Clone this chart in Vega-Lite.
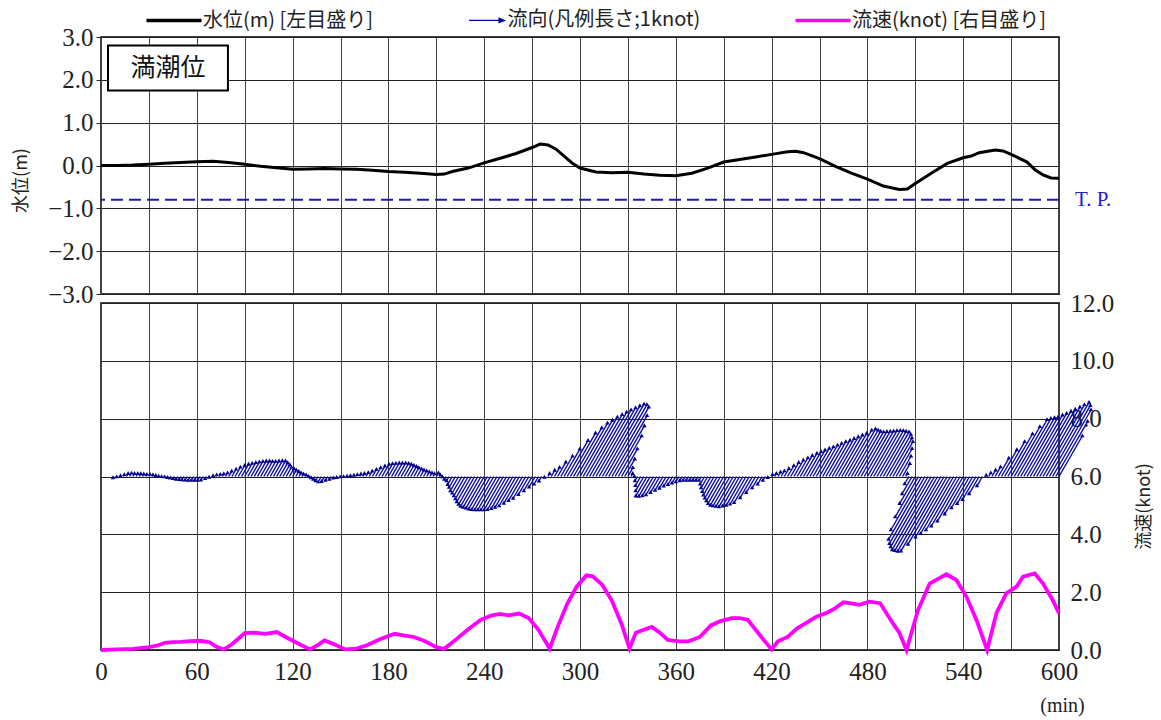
{
  "$schema": "https://vega.github.io/schema/vega-lite/v6.json",
  "background": "white",
  "padding": {"left": 11, "top": 8, "right": 2, "bottom": 2},
  "spacing": 9,
  "bounds": "flush",
  "config": {
    "font": "Liberation Serif",
    "view": {"stroke": "black", "strokeWidth": 1.5},
    "axis": {"labelFont": "Liberation Serif", "labelFontSize": 25, "labelColor": "#222", "titleFont": "Noto Sans CJK JP", "titleFontWeight": "normal", "titleFontSize": 18, "titleColor": "#222", "domain": false, "gridColor": "#222", "gridOpacity": 1, "gridWidth": 1, "tickColor": "#222", "labelFlush": false, "labelOverlap": false},
    "legend": {"labelFont": "Noto Sans CJK JP", "labelFontSize": 20, "labelColor": "#222", "labelLimit": 400, "symbolSize": 400, "symbolStrokeWidth": 3.5, "symbolOpacity": 1, "columnPadding": 87.5, "labelOffset": 17}
  },
  "datasets": {
    "wl": [
      {"t":0,"m":0.0},{"t":10,"m":0.0},{"t":20,"m":0.01},{"t":30,"m":0.03},{"t":40,"m":0.05},{"t":50,"m":0.07},{"t":60,"m":0.09},{"t":70,"m":0.1},{"t":80,"m":0.07},{"t":90,"m":0.03},{"t":100,"m":-0.02},{"t":110,"m":-0.05},{"t":120,"m":-0.09},{"t":130,"m":-0.08},{"t":140,"m":-0.07},{"t":150,"m":-0.08},{"t":160,"m":-0.09},{"t":170,"m":-0.11},{"t":180,"m":-0.14},{"t":190,"m":-0.16},{"t":200,"m":-0.18},{"t":210,"m":-0.21},{"t":215,"m":-0.2},{"t":220,"m":-0.14},{"t":230,"m":-0.06},{"t":240,"m":0.06},{"t":250,"m":0.17},{"t":260,"m":0.28},{"t":270,"m":0.42},{"t":275,"m":0.5},{"t":280,"m":0.48},{"t":285,"m":0.38},{"t":290,"m":0.22},{"t":295,"m":0.06},{"t":300,"m":-0.06},{"t":310,"m":-0.15},{"t":320,"m":-0.17},{"t":330,"m":-0.16},{"t":340,"m":-0.2},{"t":350,"m":-0.23},{"t":360,"m":-0.24},{"t":370,"m":-0.18},{"t":380,"m":-0.06},{"t":390,"m":0.08},{"t":400,"m":0.14},{"t":410,"m":0.2},{"t":420,"m":0.26},{"t":430,"m":0.32},{"t":435,"m":0.33},{"t":440,"m":0.3},{"t":450,"m":0.16},{"t":460,"m":-0.02},{"t":470,"m":-0.18},{"t":480,"m":-0.32},{"t":490,"m":-0.48},{"t":500,"m":-0.56},{"t":505,"m":-0.55},{"t":510,"m":-0.42},{"t":520,"m":-0.18},{"t":530,"m":0.05},{"t":540,"m":0.18},{"t":545,"m":0.22},{"t":550,"m":0.3},{"t":560,"m":0.36},{"t":565,"m":0.34},{"t":570,"m":0.26},{"t":580,"m":0.08},{"t":585,"m":-0.1},{"t":590,"m":-0.22},{"t":595,"m":-0.29},{"t":600,"m":-0.3}
    ],
    "sp": [
      {"t":0,"v":0.0},{"t":10,"v":0.02},{"t":20,"v":0.04},{"t":30,"v":0.1},{"t":35,"v":0.15},{"t":40,"v":0.25},{"t":45,"v":0.27},{"t":50,"v":0.28},{"t":56,"v":0.31},{"t":62,"v":0.32},{"t":68,"v":0.27},{"t":72,"v":0.12},{"t":77,"v":0.02},{"t":82,"v":0.2},{"t":90,"v":0.58},{"t":96,"v":0.6},{"t":103,"v":0.56},{"t":110,"v":0.62},{"t":118,"v":0.38},{"t":125,"v":0.18},{"t":131,"v":0.02},{"t":136,"v":0.18},{"t":140,"v":0.33},{"t":146,"v":0.2},{"t":153,"v":0.02},{"t":160,"v":0.05},{"t":167,"v":0.17},{"t":175,"v":0.38},{"t":184,"v":0.56},{"t":190,"v":0.5},{"t":196,"v":0.45},{"t":203,"v":0.3},{"t":210,"v":0.1},{"t":215,"v":0.04},{"t":222,"v":0.35},{"t":230,"v":0.72},{"t":238,"v":1.05},{"t":245,"v":1.2},{"t":250,"v":1.25},{"t":255,"v":1.2},{"t":262,"v":1.26},{"t":268,"v":1.1},{"t":274,"v":0.7},{"t":281,"v":0.05},{"t":286,"v":0.8},{"t":292,"v":1.6},{"t":298,"v":2.2},{"t":304,"v":2.58},{"t":308,"v":2.55},{"t":314,"v":2.25},{"t":320,"v":1.7},{"t":326,"v":0.9},{"t":331,"v":0.05},{"t":335,"v":0.6},{"t":340,"v":0.7},{"t":345,"v":0.8},{"t":350,"v":0.6},{"t":355,"v":0.35},{"t":362,"v":0.3},{"t":368,"v":0.3},{"t":375,"v":0.45},{"t":382,"v":0.85},{"t":388,"v":1.0},{"t":395,"v":1.1},{"t":400,"v":1.1},{"t":405,"v":1.05},{"t":410,"v":0.7},{"t":415,"v":0.35},{"t":420,"v":0.02},{"t":424,"v":0.3},{"t":430,"v":0.45},{"t":436,"v":0.75},{"t":442,"v":0.95},{"t":448,"v":1.15},{"t":455,"v":1.3},{"t":460,"v":1.45},{"t":465,"v":1.65},{"t":469,"v":1.62},{"t":475,"v":1.56},{"t":481,"v":1.67},{"t":488,"v":1.62},{"t":496,"v":0.92},{"t":500,"v":0.6},{"t":504.5,"v":0.0},{"t":511.7,"v":1.38},{"t":519,"v":2.3},{"t":524,"v":2.45},{"t":529.5,"v":2.62},{"t":535.7,"v":2.42},{"t":542,"v":1.85},{"t":548.3,"v":1.04},{"t":555,"v":0.0},{"t":560.8,"v":1.27},{"t":567,"v":1.96},{"t":573.4,"v":2.19},{"t":577.5,"v":2.54},{"t":584.8,"v":2.65},{"t":590,"v":2.3},{"t":596,"v":1.73},{"t":600,"v":1.27}
    ],
    "dir": [
      {"t":8,"tx":7.5,"ty":5.95},{"t":10,"tx":9.8,"ty":5.98},{"t":12,"tx":12.2,"ty":6.02},{"t":14,"tx":14.6,"ty":6.06},{"t":16,"tx":17.0,"ty":6.1},{"t":18,"tx":19.1,"ty":6.11},{"t":20,"tx":21.0,"ty":6.1},{"t":22,"tx":23.0,"ty":6.1},{"t":24,"tx":24.9,"ty":6.09},{"t":26,"tx":26.8,"ty":6.08},{"t":28,"tx":28.7,"ty":6.07},{"t":30,"tx":30.7,"ty":6.07},{"t":32,"tx":32.5,"ty":6.05},{"t":34,"tx":34.3,"ty":6.03},{"t":36,"tx":36.1,"ty":6.01},{"t":38,"tx":37.9,"ty":5.99},{"t":40,"tx":39.8,"ty":5.98},{"t":42,"tx":41.6,"ty":5.96},{"t":44,"tx":43.4,"ty":5.94},{"t":46,"tx":45.2,"ty":5.92},{"t":48,"tx":47.0,"ty":5.9},{"t":50,"tx":48.9,"ty":5.89},{"t":52,"tx":50.7,"ty":5.88},{"t":54,"tx":52.6,"ty":5.87},{"t":56,"tx":54.5,"ty":5.86},{"t":58,"tx":56.5,"ty":5.86},{"t":60,"tx":58.5,"ty":5.86},{"t":62,"tx":60.5,"ty":5.86},{"t":64,"tx":62.6,"ty":5.87},{"t":66,"tx":65.2,"ty":5.92},{"t":68,"tx":67.7,"ty":5.97},{"t":70,"tx":70.2,"ty":6.02},{"t":72,"tx":72.5,"ty":6.05},{"t":74,"tx":74.7,"ty":6.07},{"t":76,"tx":76.9,"ty":6.09},{"t":78,"tx":79.3,"ty":6.12},{"t":80,"tx":81.9,"ty":6.18},{"t":82,"tx":84.6,"ty":6.25},{"t":84,"tx":87.3,"ty":6.32},{"t":86,"tx":90.0,"ty":6.38},{"t":88,"tx":92.4,"ty":6.42},{"t":90,"tx":94.7,"ty":6.45},{"t":92,"tx":97.0,"ty":6.48},{"t":94,"tx":99.2,"ty":6.5},{"t":96,"tx":101.4,"ty":6.52},{"t":98,"tx":103.5,"ty":6.53},{"t":100,"tx":105.5,"ty":6.53},{"t":102,"tx":107.4,"ty":6.52},{"t":104,"tx":109.4,"ty":6.52},{"t":106,"tx":111.5,"ty":6.53},{"t":108,"tx":113.6,"ty":6.54},{"t":110,"tx":115.5,"ty":6.53},{"t":112,"tx":116.9,"ty":6.47},{"t":114,"tx":118.2,"ty":6.4},{"t":116,"tx":119.3,"ty":6.32},{"t":118,"tx":120.8,"ty":6.27},{"t":120,"tx":122.3,"ty":6.22},{"t":122,"tx":123.8,"ty":6.17},{"t":124,"tx":125.3,"ty":6.12},{"t":126,"tx":126.8,"ty":6.08},{"t":128,"tx":128.5,"ty":6.05},{"t":130,"tx":130.0,"ty":6.0},{"t":132,"tx":131.5,"ty":5.95},{"t":134,"tx":133.0,"ty":5.9},{"t":136,"tx":134.4,"ty":5.85},{"t":138,"tx":136.0,"ty":5.81},{"t":140,"tx":138.1,"ty":5.82},{"t":142,"tx":140.5,"ty":5.86},{"t":144,"tx":143.0,"ty":5.9},{"t":146,"tx":145.4,"ty":5.94},{"t":148,"tx":147.6,"ty":5.96},{"t":150,"tx":149.8,"ty":5.98},{"t":152,"tx":151.9,"ty":5.99},{"t":154,"tx":154.1,"ty":6.01},{"t":156,"tx":156.2,"ty":6.02},{"t":158,"tx":158.4,"ty":6.04},{"t":160,"tx":160.6,"ty":6.06},{"t":162,"tx":162.8,"ty":6.08},{"t":164,"tx":165.0,"ty":6.1},{"t":166,"tx":167.4,"ty":6.13},{"t":168,"tx":169.9,"ty":6.18},{"t":170,"tx":172.5,"ty":6.24},{"t":172,"tx":175.1,"ty":6.3},{"t":174,"tx":177.8,"ty":6.36},{"t":176,"tx":180.4,"ty":6.42},{"t":178,"tx":182.6,"ty":6.44},{"t":180,"tx":184.7,"ty":6.45},{"t":182,"tx":186.8,"ty":6.46},{"t":184,"tx":188.8,"ty":6.46},{"t":186,"tx":190.8,"ty":6.46},{"t":188,"tx":192.7,"ty":6.45},{"t":190,"tx":194.4,"ty":6.42},{"t":192,"tx":196.0,"ty":6.38},{"t":194,"tx":197.6,"ty":6.34},{"t":196,"tx":199.1,"ty":6.3},{"t":198,"tx":200.7,"ty":6.26},{"t":200,"tx":202.3,"ty":6.22},{"t":202,"tx":204.0,"ty":6.19},{"t":204,"tx":205.6,"ty":6.15},{"t":206,"tx":207.3,"ty":6.12},{"t":208,"tx":208.9,"ty":6.09},{"t":210,"tx":211.3,"ty":6.12},{"t":212,"tx":212.5,"ty":6.05},{"t":214,"tx":213.8,"ty":5.98},{"t":216,"tx":215.0,"ty":5.9},{"t":218,"tx":216.4,"ty":5.85},{"t":220,"tx":217.1,"ty":5.72},{"t":222,"tx":218.0,"ty":5.62},{"t":224,"tx":218.8,"ty":5.5},{"t":226,"tx":219.9,"ty":5.42},{"t":228,"tx":221.0,"ty":5.33},{"t":230,"tx":221.9,"ty":5.22},{"t":232,"tx":222.8,"ty":5.12},{"t":234,"tx":223.9,"ty":5.03},{"t":236,"tx":225.1,"ty":4.96},{"t":238,"tx":226.8,"ty":4.93},{"t":240,"tx":228.5,"ty":4.9},{"t":242,"tx":230.2,"ty":4.87},{"t":244,"tx":232.0,"ty":4.85},{"t":246,"tx":233.9,"ty":4.84},{"t":248,"tx":235.9,"ty":4.84},{"t":250,"tx":237.9,"ty":4.84},{"t":252,"tx":239.9,"ty":4.84},{"t":254,"tx":242.0,"ty":4.85},{"t":256,"tx":244.4,"ty":4.89},{"t":258,"tx":246.8,"ty":4.93},{"t":260,"tx":249.3,"ty":4.98},{"t":262,"tx":252.3,"ty":5.07},{"t":264,"tx":255.2,"ty":5.16},{"t":266,"tx":258.1,"ty":5.24},{"t":268,"tx":261.4,"ty":5.37},{"t":270,"tx":264.8,"ty":5.5},{"t":272,"tx":268.1,"ty":5.63},{"t":274,"tx":271.2,"ty":5.73},{"t":276,"tx":274.3,"ty":5.84},{"t":278,"tx":277.7,"ty":5.97},{"t":280,"tx":281.0,"ty":6.1},{"t":282,"tx":284.2,"ty":6.21},{"t":284,"tx":287.2,"ty":6.31},{"t":286,"tx":291.1,"ty":6.49},{"t":288,"tx":295.3,"ty":6.7},{"t":290,"tx":299.9,"ty":6.95},{"t":292,"tx":305.0,"ty":7.24},{"t":294,"tx":309.7,"ty":7.5},{"t":296,"tx":313.6,"ty":7.68},{"t":298,"tx":317.2,"ty":7.84},{"t":300,"tx":320.3,"ty":7.94},{"t":302,"tx":323.4,"ty":8.05},{"t":304,"tx":326.4,"ty":8.14},{"t":306,"tx":329.2,"ty":8.22},{"t":308,"tx":332.0,"ty":8.3},{"t":310,"tx":334.8,"ty":8.37},{"t":312,"tx":337.5,"ty":8.44},{"t":314,"tx":340.1,"ty":8.5},{"t":316,"tx":341.9,"ty":8.48},{"t":318,"tx":343.1,"ty":8.4},{"t":320,"tx":342.0,"ty":8.1},{"t":322,"tx":340.3,"ty":7.75},{"t":324,"tx":338.6,"ty":7.4},{"t":326,"tx":335.9,"ty":6.95},{"t":328,"tx":334.3,"ty":6.6},{"t":330,"tx":333.1,"ty":6.3},{"t":332,"tx":333.0,"ty":6.1},{"t":334,"tx":334.0,"ty":6.0},{"t":336,"tx":334.4,"ty":5.85},{"t":338,"tx":334.7,"ty":5.68},{"t":340,"tx":334.8,"ty":5.5},{"t":342,"tx":334.9,"ty":5.32},{"t":344,"tx":336.8,"ty":5.31},{"t":346,"tx":339.0,"ty":5.33},{"t":348,"tx":341.3,"ty":5.36},{"t":350,"tx":344.1,"ty":5.44},{"t":352,"tx":347.0,"ty":5.52},{"t":354,"tx":349.7,"ty":5.59},{"t":356,"tx":352.4,"ty":5.66},{"t":358,"tx":355.1,"ty":5.72},{"t":360,"tx":357.6,"ty":5.77},{"t":362,"tx":360.0,"ty":5.81},{"t":364,"tx":362.4,"ty":5.85},{"t":366,"tx":364.5,"ty":5.86},{"t":368,"tx":366.5,"ty":5.86},{"t":370,"tx":368.5,"ty":5.86},{"t":372,"tx":370.5,"ty":5.86},{"t":374,"tx":372.5,"ty":5.86},{"t":376,"tx":374.5,"ty":5.86},{"t":378,"tx":375.2,"ty":5.73},{"t":380,"tx":375.8,"ty":5.6},{"t":382,"tx":376.5,"ty":5.47},{"t":384,"tx":377.2,"ty":5.35},{"t":386,"tx":378.2,"ty":5.25},{"t":388,"tx":379.1,"ty":5.15},{"t":390,"tx":380.2,"ty":5.06},{"t":392,"tx":381.6,"ty":5.0},{"t":394,"tx":383.3,"ty":4.98},{"t":396,"tx":385.1,"ty":4.96},{"t":398,"tx":387.0,"ty":4.95},{"t":400,"tx":389.2,"ty":4.97},{"t":402,"tx":391.6,"ty":5.0},{"t":404,"tx":394.0,"ty":5.04},{"t":406,"tx":396.5,"ty":5.09},{"t":408,"tx":400.3,"ty":5.26},{"t":410,"tx":404.1,"ty":5.44},{"t":412,"tx":407.8,"ty":5.6},{"t":414,"tx":411.2,"ty":5.73},{"t":416,"tx":414.5,"ty":5.86},{"t":418,"tx":417.6,"ty":5.96},{"t":420,"tx":420.6,"ty":6.06},{"t":422,"tx":423.0,"ty":6.1},{"t":424,"tx":425.6,"ty":6.15},{"t":426,"tx":428.0,"ty":6.19},{"t":428,"tx":430.8,"ty":6.27},{"t":430,"tx":433.9,"ty":6.37},{"t":432,"tx":437.0,"ty":6.48},{"t":434,"tx":439.9,"ty":6.56},{"t":436,"tx":442.7,"ty":6.64},{"t":438,"tx":445.5,"ty":6.72},{"t":440,"tx":448.4,"ty":6.8},{"t":442,"tx":451.0,"ty":6.86},{"t":444,"tx":453.5,"ty":6.91},{"t":446,"tx":456.1,"ty":6.97},{"t":448,"tx":458.7,"ty":7.02},{"t":450,"tx":461.3,"ty":7.08},{"t":452,"tx":463.9,"ty":7.14},{"t":454,"tx":466.5,"ty":7.2},{"t":456,"tx":469.1,"ty":7.25},{"t":458,"tx":471.7,"ty":7.31},{"t":460,"tx":474.3,"ty":7.37},{"t":462,"tx":476.9,"ty":7.43},{"t":464,"tx":479.6,"ty":7.49},{"t":466,"tx":482.7,"ty":7.6},{"t":468,"tx":485.1,"ty":7.64},{"t":470,"tx":486.7,"ty":7.6},{"t":472,"tx":488.3,"ty":7.56},{"t":474,"tx":490.1,"ty":7.54},{"t":476,"tx":492.2,"ty":7.55},{"t":478,"tx":494.3,"ty":7.56},{"t":480,"tx":496.4,"ty":7.57},{"t":482,"tx":498.5,"ty":7.58},{"t":484,"tx":500.6,"ty":7.59},{"t":486,"tx":502.5,"ty":7.58},{"t":488,"tx":504.3,"ty":7.56},{"t":490,"tx":506.1,"ty":7.54},{"t":492,"tx":507.2,"ty":7.45},{"t":494,"tx":507.9,"ty":7.33},{"t":496,"tx":508.5,"ty":7.2},{"t":498,"tx":508.0,"ty":6.96},{"t":500,"tx":507.3,"ty":6.7},{"t":502,"tx":506.6,"ty":6.44},{"t":504,"tx":505.1,"ty":6.1},{"t":506,"tx":503.3,"ty":5.74},{"t":508,"tx":501.7,"ty":5.4},{"t":510,"tx":500.2,"ty":5.06},{"t":512,"tx":497.4,"ty":4.6},{"t":514,"tx":494.7,"ty":4.15},{"t":516,"tx":493.2,"ty":3.82},{"t":518,"tx":493.8,"ty":3.68},{"t":520,"tx":494.5,"ty":3.56},{"t":522,"tx":495.5,"ty":3.46},{"t":524,"tx":497.1,"ty":3.43},{"t":526,"tx":498.9,"ty":3.41},{"t":528,"tx":501.0,"ty":3.42},{"t":530,"tx":505.4,"ty":3.65},{"t":532,"tx":510.1,"ty":3.9},{"t":534,"tx":513.3,"ty":4.02},{"t":536,"tx":516.7,"ty":4.15},{"t":538,"tx":520.0,"ty":4.28},{"t":540,"tx":523.8,"ty":4.45},{"t":542,"tx":528.4,"ty":4.7},{"t":544,"tx":532.6,"ty":4.91},{"t":546,"tx":536.2,"ty":5.06},{"t":548,"tx":539.6,"ty":5.2},{"t":550,"tx":543.7,"ty":5.4},{"t":552,"tx":548.6,"ty":5.67},{"t":554,"tx":554.4,"ty":6.04},{"t":556,"tx":557.3,"ty":6.12},{"t":558,"tx":560.3,"ty":6.22},{"t":560,"tx":563.4,"ty":6.33},{"t":562,"tx":568.6,"ty":6.63},{"t":564,"tx":573.6,"ty":6.92},{"t":566,"tx":578.5,"ty":7.2},{"t":568,"tx":583.4,"ty":7.47},{"t":570,"tx":588.0,"ty":7.72},{"t":572,"tx":592.5,"ty":7.96},{"t":574,"tx":594.9,"ty":8.0},{"t":576,"tx":597.2,"ty":8.03},{"t":578,"tx":599.4,"ty":8.05},{"t":580,"tx":602.2,"ty":8.12},{"t":582,"tx":604.8,"ty":8.18},{"t":584,"tx":607.5,"ty":8.25},{"t":586,"tx":610.2,"ty":8.32},{"t":588,"tx":613.1,"ty":8.4},{"t":590,"tx":615.9,"ty":8.48},{"t":592,"tx":618.8,"ty":8.56},{"t":594,"tx":619.6,"ty":8.45},{"t":596,"tx":620.0,"ty":8.3},{"t":598,"tx":617.9,"ty":7.9},{"t":600,"tx":614.6,"ty":7.4}
    ]
  },
  "vconcat": [
    {
      "width": 958,
      "height": 257,
      "layer": [
        {
          "data": {"name": "wl"},
          "mark": {"type": "line", "strokeWidth": 3, "color": "black"},
          "encoding": {
            "x": {"field": "t", "type": "quantitative", "scale": {"domain": [0, 600], "nice": false, "zero": false},
                  "axis": {"values": [0,30,60,90,120,150,180,210,240,270,300,330,360,390,420,450,480,510,540,570,600], "labels": false, "ticks": false, "title": null, "grid": true, "gridColor": "#444"}},
            "y": {"field": "m", "type": "quantitative", "scale": {"domain": [-3, 3], "nice": false, "zero": false},
                  "axis": {"values": [-3,-2.5,-2,-1.5,-1,-0.5,0,0.5,1,1.5,2,2.5,3], "labelExpr": "datum.value % 1 === 0 ? format(datum.value, '.1f') : ''", "title": "水位(m)", "titlePadding": 17, "titleY": 143, "tickSize": 5, "labelPadding": 3, "grid": true}}
          }
        },
        {
          "data": {"values": [{"s": "水位(m) [左目盛り]"}, {"s": "流向(凡例長さ;1knot)"}, {"s": "流速(knot) [右目盛り]"}]},
          "mark": {"type": "point", "opacity": 0},
          "encoding": {
            "stroke": {"field": "s", "type": "nominal",
                       "scale": {"domain": ["水位(m) [左目盛り]", "流向(凡例長さ;1knot)", "流速(knot) [右目盛り]"], "range": ["#000000", "transparent", "#ff00ff"]},
                       "legend": {"orient": "none", "legendX": 61, "legendY": -29, "direction": "horizontal", "title": null}},
            "fill": {"field": "s", "type": "nominal",
                     "scale": {"domain": ["水位(m) [左目盛り]", "流向(凡例長さ;1knot)", "流速(knot) [右目盛り]"], "range": ["transparent", "#0000a0", "transparent"]},
                     "legend": {"orient": "none", "legendX": 61, "legendY": -29, "direction": "horizontal", "title": null}},
            "shape": {"field": "s", "type": "nominal",
                      "scale": {"domain": ["水位(m) [左目盛り]", "流向(凡例長さ;1knot)", "流速(knot) [右目盛り]"], "range": ["M-2.75,0H2.75", "M-0.95,-0.06H2.0V-0.32L2.75,0L2.0,0.32V0.06H-0.95Z", "M-2.75,0H2.75"]},
                      "legend": {"orient": "none", "legendX": 61, "legendY": -29, "direction": "horizontal", "title": null}}
          }
        },
        {
          "data": {"values": [{"tp": -0.8}]},
          "mark": {"type": "rule", "color": "#1c1cb4", "strokeDash": [12, 6], "strokeWidth": 2},
          "encoding": {"y": {"field": "tp", "type": "quantitative"}}
        },
        {
          "data": {"values": [{"tp": -0.8, "tx": 600, "label": "T. P."}]},
          "mark": {"type": "text", "align": "left", "baseline": "middle", "dx": 16, "font": "Liberation Serif", "fontSize": 21, "color": "#2020d0"},
          "encoding": {"x": {"field": "tx", "type": "quantitative"}, "y": {"field": "tp", "type": "quantitative"}, "text": {"field": "label"}}
        },
        {
          "data": {"values": [{"x1": 4.4, "x2": 79.5, "y1": 1.75, "y2": 2.8, "label": "満潮位"}]},
          "mark": {"type": "rect", "fill": "white", "stroke": "black", "strokeWidth": 2},
          "encoding": {"x": {"field": "x1", "type": "quantitative"}, "x2": {"field": "x2"}, "y": {"field": "y1", "type": "quantitative"}, "y2": {"field": "y2"}}
        },
        {
          "data": {"values": [{"xc": 42, "yc": 2.27, "label": "満潮位"}]},
          "mark": {"type": "text", "font": "Noto Sans CJK JP", "fontSize": 25, "color": "#111", "align": "center", "baseline": "middle"},
          "encoding": {"x": {"field": "xc", "type": "quantitative"}, "y": {"field": "yc", "type": "quantitative"}, "text": {"field": "label"}}
        }
      ]
    },
    {
      "width": 958,
      "height": 347,
      "layer": [
        {
          "data": {"name": "dir"},
          "mark": {"type": "rule", "strokeWidth": 1.4, "color": "#0a0aa0"},
          "encoding": {
            "x": {"field": "tx", "type": "quantitative", "scale": {"domain": [0, 600], "nice": false, "zero": false},
                  "axis": {"values": [0,30,60,90,120,150,180,210,240,270,300,330,360,390,420,450,480,510,540,570,600], "labelExpr": "datum.value % 60 === 0 ? datum.label : ''", "ticks": false, "labelPadding": 9, "grid": true, "gridColor": "#444",
                           "title": "(min)", "titleFont": "Liberation Serif", "titleFontSize": 20, "titleX": 961, "titleY": 55, "titleAlign": "center", "titleBaseline": "middle"}},
            "x2": {"field": "t"},
            "y": {"field": "ty", "type": "quantitative", "scale": {"domain": [0, 12], "nice": false, "zero": true},
                  "axis": {"orient": "right", "values": [0,1,2,3,4,5,6,7,8,9,10,11,12], "labelExpr": "datum.value % 2 === 0 ? format(datum.value, '.1f') : ''", "ticks": false, "labelPadding": 11, "grid": true,
                           "title": "流速(knot)", "titleAngle": 270, "titlePadding": 40, "titleY": 203}},
            "y2": {"datum": 6}
          }
        },
        {
          "data": {"name": "dir"},
          "mark": {"type": "point", "shape": "triangle", "size": 20, "filled": true, "color": "#00008c", "opacity": 1},
          "encoding": {
            "x": {"field": "tx", "type": "quantitative"},
            "y": {"field": "ty", "type": "quantitative"}
          }
        },
        {
          "data": {"name": "sp"},
          "mark": {"type": "line", "strokeWidth": 3.8, "color": "#ff00ff"},
          "encoding": {
            "x": {"field": "t", "type": "quantitative"},
            "y": {"field": "v", "type": "quantitative"}
          }
        }
      ]
    }
  ]
}
